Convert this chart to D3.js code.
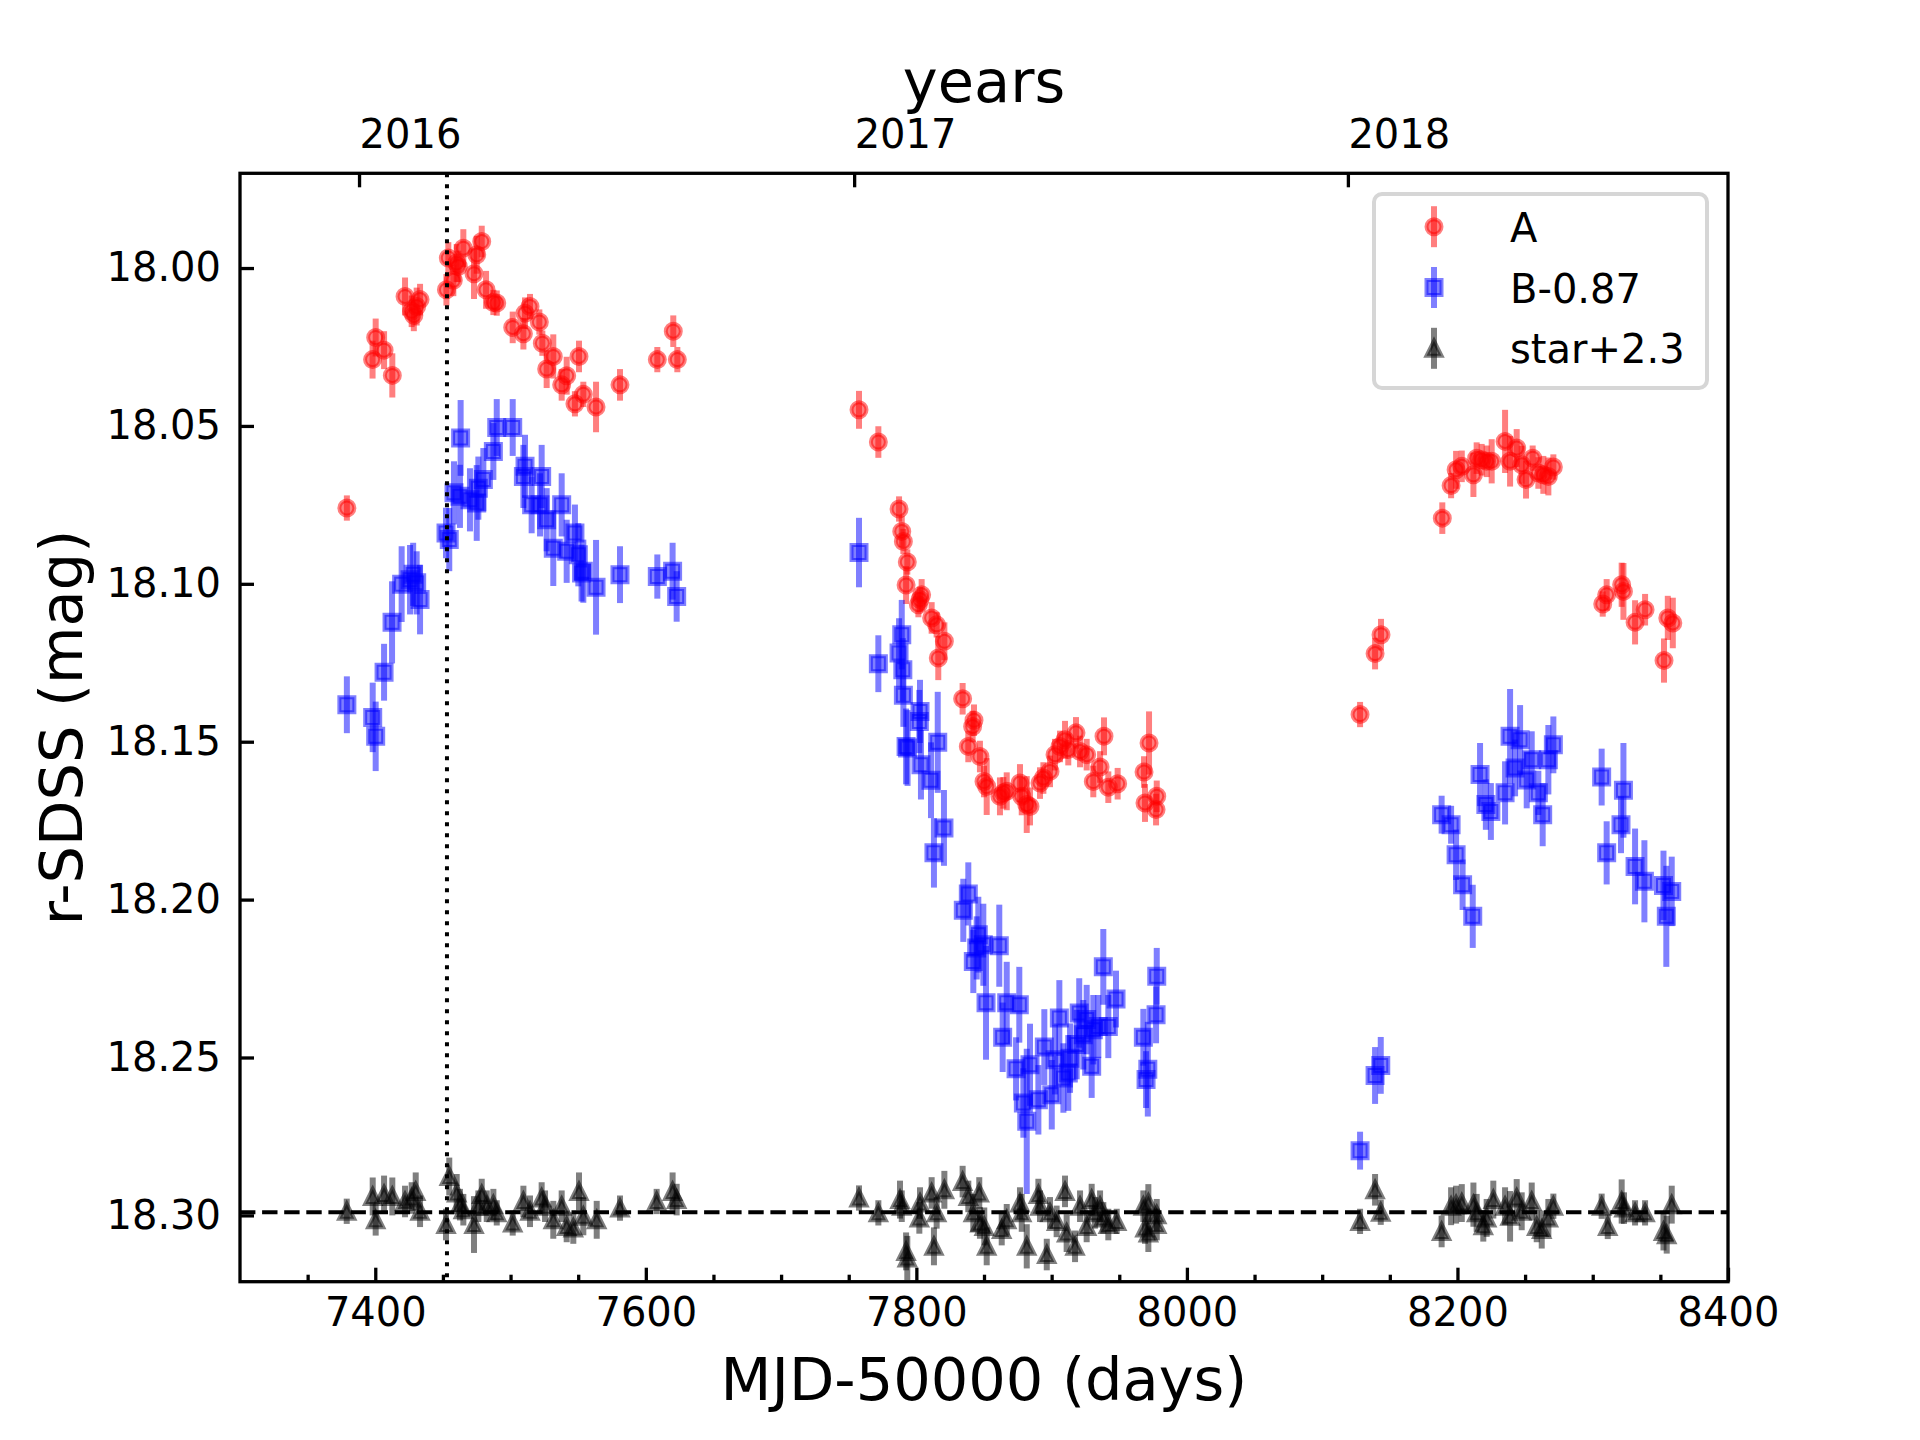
<!DOCTYPE html>
<html>
<head>
<meta charset="utf-8">
<script src="https://cdn.jsdelivr.net/npm/d3@7"></script>
<style>
  body { margin: 0; background: #fff; }
  svg text { font-family: "DejaVu Sans", sans-serif; fill: #000; }
</style>
</head>
<body>
<svg id="chart" width="1920" height="1440"></svg>
<script>
// -------------------------------------------------------------------------
// Data (MJD-50000, plotted magnitude, error)

// image A
const aDays = [
  7379, 7398, 7400.3, 7406.5, 7412.6, 7422, 7426.9, 7428.5, 7430.6, 7433.1,
  7452.6, 7454, 7457.7, 7460.2, 7461.4, 7465.1, 7473, 7475, 7478.7, 7481.9,
  7487.3, 7489.8, 7501.6, 7509.5, 7510.7, 7514.4, 7521.3, 7523.5, 7526.7, 7531.6,
  7537.8, 7541.5, 7547.6, 7550.6, 7553.8, 7563.2, 7580.9, 7608.5, 7620.3, 7623.3,
  7757.6, 7771.9, 7787.2, 7789.2, 7790.4, 7793.3, 7792.4, 7801.5, 7802.7, 7803.9,
  7811.3, 7815, 7820.7, 7816.2, 7834.2, 7838.4, 7841.6, 7842.6, 7847, 7850,
  7852, 7861.8, 7864.3, 7866.8, 7876.6, 7877.9, 7881.6, 7884, 7891.4, 7893.9,
  7898.8, 7902.5, 7906.2, 7909.9, 7912.3, 7918, 7921, 7925.9, 7930.8, 7935.8,
  7938.7, 7941.9, 7948.8, 7968.3, 7969, 7972, 7977.2, 7977.7,
  8128, 8139.1, 8143.5, 8188.8, 8195.3, 8199, 8203.2, 8211.8, 8214.2, 8217.9,
  8221.6, 8225.3, 8235.2, 8238.9, 8243.8, 8247.5, 8250.7, 8255.6, 8259.8, 8263.5,
  8267.2, 8270.9, 8307.4, 8310.3, 8321.4, 8322.7, 8331.3, 8338.7, 8352.7, 8355.5,
  8359.2
];
const aMags = [
  18.076, 18.029, 18.022, 18.026, 18.034, 18.009, 18.0137, 18.015, 18.0122, 18.010,
  18.0069, 17.9968, 18.0039, 17.9984, 17.9995, 17.9937, 18.0018, 17.9958, 17.9916, 18.0069,
  18.0109, 18.0111, 18.0188, 18.0208, 18.0143, 18.0122, 18.0171, 18.0238, 18.032, 18.028,
  18.037, 18.0341, 18.043, 18.028, 18.040, 18.044, 18.037, 18.029, 18.020, 18.029,
  18.0449, 18.0551, 18.0763, 18.0834, 18.0866, 18.0931, 18.1004, 18.1066, 18.105, 18.1035,
  18.1108, 18.113, 18.1182, 18.1235, 18.1364, 18.1515, 18.1452, 18.1432, 18.1547, 18.1626,
  18.1642, 18.1673, 18.1662, 18.1657, 18.1631, 18.1673, 18.1699, 18.1705, 18.1631, 18.1615,
  18.1594, 18.1541, 18.1515, 18.1494, 18.1525, 18.1472, 18.1531, 18.1541, 18.1626, 18.158,
  18.1483, 18.1644, 18.1633, 18.1596, 18.1694, 18.1504, 18.1715, 18.1673,
  18.1414, 18.1221, 18.1161, 18.0792, 18.0689, 18.0639, 18.0628, 18.0655, 18.0602, 18.0607,
  18.0612, 18.0612, 18.0549, 18.0612, 18.057, 18.0623, 18.067, 18.0602, 18.0649, 18.0655,
  18.066, 18.063, 18.1064, 18.1035, 18.1003, 18.1024, 18.1122, 18.1082, 18.1243, 18.1108,
  18.1124
];
const aErrs = [
  0.004, 0.006, 0.006, 0.006, 0.007, 0.006, 0.005, 0.005, 0.006, 0.005,
  0.005, 0.005, 0.005, 0.006, 0.005, 0.006, 0.008, 0.006, 0.005, 0.006,
  0.004, 0.004, 0.005, 0.005, 0.005, 0.004, 0.004, 0.004, 0.006, 0.007,
  0.005, 0.006, 0.004, 0.005, 0.004, 0.008, 0.005, 0.004, 0.005, 0.004,
  0.006, 0.005, 0.004, 0.005, 0.004, 0.004, 0.006, 0.004, 0.004, 0.005,
  0.005, 0.004, 0.006, 0.007, 0.005, 0.005, 0.005, 0.005, 0.005, 0.005,
  0.009, 0.006, 0.005, 0.006, 0.006, 0.006, 0.009, 0.006, 0.005, 0.005,
  0.005, 0.005, 0.005, 0.006, 0.005, 0.005, 0.005, 0.005, 0.005, 0.005,
  0.006, 0.005, 0.005, 0.005, 0.006, 0.010, 0.005, 0.005,
  0.004, 0.005, 0.005, 0.005, 0.004, 0.006, 0.005, 0.007, 0.005, 0.005,
  0.005, 0.007, 0.010, 0.008, 0.006, 0.006, 0.006, 0.004, 0.005, 0.006,
  0.006, 0.004, 0.004, 0.005, 0.007, 0.009, 0.007, 0.005, 0.007, 0.007,
  0.008
];

// image B, shifted by -0.87
const bDays = [
  7379, 7398.1, 7400.3, 7406.5, 7412.4, 7419.5, 7425.7, 7428, 7430.6, 7433.1,
  7452.3, 7454.7, 7458.2, 7462.6, 7463.1, 7470, 7475, 7476.2, 7479.9, 7487.3,
  7489.8, 7501.6, 7509.5, 7510.7, 7515.6, 7521.8, 7523, 7526.7, 7531.6, 7537.8,
  7541.5, 7547.6, 7550.1, 7552.5, 7553.8, 7563.2, 7580.9, 7608.5, 7619.8, 7622.8,
  7757.6, 7771.9, 7787.2, 7789.2, 7790, 7790.4, 7792.4, 7793.5, 7802.2, 7802.7,
  7803.4, 7810.8, 7813, 7815.8, 7820.4, 7834.7, 7838.4, 7842.1, 7844.6, 7845.8,
  7849.5, 7851.5, 7861.3, 7863.8, 7866.8, 7873.7, 7876.1, 7879.1, 7881.6, 7884,
  7890.2, 7894.6, 7900.1, 7902.5, 7905.7, 7908.7, 7912.3, 7913.6, 7918.5, 7920.4,
  7923.4, 7925.9, 7929.6, 7930.8, 7934.5, 7938.2, 7941.9, 7947.6, 7967.8, 7969.8,
  7971.1, 7977.2, 7977.7,
  8128, 8139.1, 8143.3, 8188.3, 8195.3, 8199, 8203.8, 8211.3, 8216.7, 8221,
  8224.7, 8235.2, 8238.9, 8242.6, 8246.3, 8251.2, 8254.9, 8259.8, 8263, 8267.2,
  8270.9, 8306.6, 8310.3, 8320.9, 8322.7, 8331.3, 8338.2, 8352.3, 8354.4, 8358.4
];
const bMags = [
  18.1383, 18.1423, 18.1483, 18.128, 18.1122, 18.1001, 18.0987, 18.097, 18.0997, 18.105,
  18.0839, 18.086, 18.0712, 18.0723, 18.0538, 18.0734, 18.0744, 18.0697, 18.067, 18.0581,
  18.0505, 18.0505, 18.066, 18.0628, 18.075, 18.075, 18.066, 18.0797, 18.0887, 18.075,
  18.0897, 18.0839, 18.0908, 18.0966, 18.096, 18.1011, 18.0971, 18.0977, 18.096, 18.104,
  18.0901, 18.1253, 18.1219, 18.1161, 18.1272, 18.1353, 18.1515, 18.152, 18.1436, 18.1404,
  18.1573, 18.1622, 18.1852, 18.1502, 18.1773, 18.2034, 18.1982, 18.2196, 18.2153, 18.2111,
  18.2143, 18.2327, 18.2146, 18.2436, 18.2327, 18.2536, 18.2333, 18.2644, 18.2702, 18.2523,
  18.2634, 18.2467, 18.2618, 18.2507, 18.2375, 18.2565, 18.2549, 18.2502, 18.2459, 18.2359,
  18.2428, 18.238, 18.2528, 18.2412, 18.2402, 18.2213, 18.2402, 18.2315, 18.2436, 18.257,
  18.2537, 18.2365, 18.2243,
  18.2795, 18.2557, 18.2525, 18.1731, 18.1763, 18.1858, 18.1953, 18.2053, 18.1604, 18.1699,
  18.1721, 18.1662, 18.1483, 18.1583, 18.1494, 18.1621, 18.1557, 18.1662, 18.1731, 18.1557,
  18.151, 18.1612, 18.1852, 18.1763, 18.1654, 18.1895, 18.1942, 18.1955, 18.2053, 18.1974
];
const bErrs = [
  0.009, 0.011, 0.011, 0.009, 0.013, 0.012, 0.011, 0.010, 0.010, 0.011,
  0.008, 0.010, 0.010, 0.010, 0.012, 0.010, 0.012, 0.010, 0.010, 0.009,
  0.009, 0.009, 0.010, 0.010, 0.009, 0.010, 0.010, 0.010, 0.012, 0.010,
  0.010, 0.009, 0.010, 0.009, 0.010, 0.015, 0.009, 0.007, 0.009, 0.008,
  0.011, 0.009, 0.011, 0.011, 0.010, 0.010, 0.012, 0.012, 0.010, 0.010,
  0.011, 0.012, 0.011, 0.016, 0.012, 0.010, 0.010, 0.010, 0.010, 0.012,
  0.013, 0.018, 0.013, 0.011, 0.013, 0.010, 0.012, 0.011, 0.023, 0.013,
  0.011, 0.012, 0.011, 0.011, 0.012, 0.011, 0.012, 0.011, 0.011, 0.011,
  0.011, 0.011, 0.010, 0.011, 0.010, 0.012, 0.010, 0.009, 0.009, 0.009,
  0.015, 0.009, 0.009,
  0.006, 0.009, 0.009, 0.006, 0.006, 0.008, 0.008, 0.010, 0.010, 0.008,
  0.009, 0.010, 0.015, 0.009, 0.011, 0.009, 0.009, 0.007, 0.010, 0.011,
  0.009, 0.009, 0.010, 0.009, 0.015, 0.012, 0.013, 0.011, 0.016, 0.011
];

// comparison star, shifted by +2.3
const sDays = [
  7378.9, 7398.1, 7400.3, 7406.5, 7412.6, 7422, 7426.9, 7429.9, 7433.1, 7454.7,
  7452.3, 7460.2, 7462.6, 7465.1, 7473, 7478.7, 7476.2, 7482.4, 7487.3, 7489.8,
  7501.6, 7509.5, 7514.4, 7523, 7525.5, 7531.6, 7537.8, 7541.5, 7546.4, 7550.6,
  7553.8, 7563.7, 7580.9, 7608, 7619.8, 7622.8,
  7757.6, 7771.9, 7787.9, 7789.2, 7792.4, 7793.3, 7802.7, 7802.2, 7811.3, 7815,
  7813, 7820.7, 7834.2, 7838.4, 7846.5, 7842.1, 7847, 7852, 7850.2, 7863.1,
  7866.8, 7876.6, 7877.9, 7881.6, 7890.2, 7891.4, 7896.4, 7898.8, 7903.7, 7909.9,
  7911.1, 7917.3, 7921, 7925.9, 7929.6, 7932, 7935.8, 7938.2, 7941.9, 7948.1,
  7967.8, 7971.5, 7969, 7971.5, 7977.7, 7977.7,
  8128, 8139.1, 8143.3, 8188.3, 8195.3, 8199, 8203.2, 8211.8, 8214.2, 8219.1,
  8221.6, 8226.5, 8235.2, 8238.9, 8243.8, 8247.5, 8254.9, 8258.6, 8262.3, 8267.2,
  8270.9, 8306.6, 8311.1, 8321.4, 8323.1, 8331.3, 8338.7, 8352.3, 8354.7, 8358.4
];
const sMags = [
  18.2987, 18.294, 18.3014, 18.2934, 18.294, 18.2956, 18.2945, 18.2924, 18.2987, 18.2877,
  18.3029, 18.2929, 18.2966, 18.2982, 18.3029, 18.2934, 18.2971, 18.2971, 18.2966, 18.2992,
  18.3024, 18.2956, 18.2987, 18.2945, 18.2971, 18.3014, 18.2971, 18.3035, 18.304, 18.2924,
  18.3003, 18.3014, 18.2977, 18.2956, 18.2924, 18.295,
  18.2945, 18.2992, 18.295, 18.2971, 18.3114, 18.3135, 18.2961, 18.3008, 18.2929, 18.2992,
  18.3098, 18.2919, 18.2893, 18.294, 18.2929, 18.2992, 18.3024, 18.3098, 18.3035, 18.3045,
  18.3014, 18.2961, 18.2992, 18.3098, 18.2934, 18.2971, 18.3124, 18.2992, 18.3019, 18.2924,
  18.3056, 18.3098, 18.2971, 18.3035, 18.295, 18.2992, 18.2971, 18.3008, 18.3029, 18.3019,
  18.2971, 18.2961, 18.304, 18.3056, 18.2998, 18.3029,
  18.3019, 18.2919, 18.299, 18.3051, 18.2971, 18.2966, 18.2961, 18.2966, 18.2992, 18.3033,
  18.3008, 18.295, 18.2971, 18.3003, 18.2945, 18.2987, 18.2956, 18.3035, 18.3045, 18.3008,
  18.2971, 18.2971, 18.3035, 18.2956, 18.2977, 18.2992, 18.2992, 18.3051, 18.3061, 18.2966
];
const sErrs = [
  0.004, 0.006, 0.005, 0.006, 0.006, 0.005, 0.005, 0.006, 0.005, 0.006,
  0.005, 0.006, 0.005, 0.005, 0.009, 0.005, 0.005, 0.005, 0.005, 0.004,
  0.004, 0.005, 0.005, 0.005, 0.005, 0.006, 0.005, 0.005, 0.005, 0.006,
  0.006, 0.006, 0.004, 0.004, 0.006, 0.005,
  0.004, 0.004, 0.006, 0.005, 0.006, 0.007, 0.005, 0.005, 0.005, 0.005,
  0.006, 0.006, 0.005, 0.005, 0.005, 0.006, 0.005, 0.006, 0.006, 0.005,
  0.005, 0.005, 0.006, 0.007, 0.005, 0.005, 0.005, 0.005, 0.005, 0.005,
  0.006, 0.005, 0.005, 0.005, 0.005, 0.005, 0.005, 0.005, 0.005, 0.004,
  0.005, 0.006, 0.005, 0.006, 0.005, 0.005,
  0.004, 0.005, 0.004, 0.005, 0.006, 0.006, 0.006, 0.007, 0.006, 0.005,
  0.006, 0.006, 0.006, 0.008, 0.006, 0.006, 0.006, 0.005, 0.006, 0.006,
  0.004, 0.004, 0.004, 0.007, 0.005, 0.004, 0.004, 0.006, 0.006, 0.006
];

const xMajorTicks = [7400, 7600, 7800, 8000, 8200, 8400];
const xMinorTicks = [7350, 7450, 7500, 7550, 7650, 7700, 7750, 7850, 7900, 7950,
  8050, 8100, 8150, 8250, 8300, 8350];
const yTicks = [18.00, 18.05, 18.10, 18.15, 18.20, 18.25, 18.30];
const yearTicks = [2016, 2017, 2018];
const starLevel = 18.299;
const eventDay = 7453;

const seriesNames = ['A', 'B-0.87', 'star+2.3'];

// -------------------------------------------------------------------------
// Layout

const margin = { left: 240, right: 1728, top: 173.3, bottom: 1281.7 };
const svg = d3.select('#chart');

const x = d3.scaleLinear().domain([7300, 8400]).range([margin.left, margin.right]);
const y = d3.scaleLinear().domain([17.97, 18.321]).range([margin.top, margin.bottom]);

// MJD-50000 of 1 January of a year
function yearToDay(year) {
  return Date.UTC(year, 0, 1) / 86400000 + 40587 - 50000;
}

const msHalf = 7.5;
const shapes = {
  circle: d3.symbol(d3.symbolCircle, Math.PI * msHalf * msHalf)(),
  square: `M${-msHalf},${-msHalf}h${2 * msHalf}v${2 * msHalf}h${-2 * msHalf}Z`,
  triangle: `M0,${-msHalf}L${-msHalf},${msHalf}L${msHalf},${msHalf}Z`
};

// -------------------------------------------------------------------------
// Series

const plot = svg.append('g').attr('class', 'plot');

function drawSeries(days, mags, errs, color, shape) {
  let rows = days.map((d, i) => ({ day: d, mag: mags[i], err: errs[i] }));
  let g = plot.append('g');
  g.selectAll('line')
    .data(rows)
    .enter()
    .append('line')
    .attr('x1', (d) => x(d.day))
    .attr('x2', (d) => x(d.day))
    .attr('y1', (d) => y(d.mag - d.err))
    .attr('y2', (d) => y(d.mag + d.err))
    .attr('stroke', color)
    .attr('stroke-opacity', 0.5)
    .attr('stroke-width', 6);
  g.selectAll('path')
    .data(rows)
    .enter()
    .append('path')
    .attr('d', shapes[shape])
    .attr('transform', (d) => `translate(${x(d.day)},${y(d.mag)})`)
    .attr('fill', color)
    .attr('fill-opacity', 0.5)
    .attr('stroke', color)
    .attr('stroke-opacity', 0.5)
    .attr('stroke-width', 4);
}

drawSeries(aDays, aMags, aErrs, '#ff0000', 'circle');
drawSeries(bDays, bMags, bErrs, '#0000ff', 'square');
drawSeries(sDays, sMags, sErrs, '#000000', 'triangle');

// reference lines
svg.append('line')
  .attr('x1', x(7300)).attr('x2', x(8400))
  .attr('y1', y(starLevel)).attr('y2', y(starLevel))
  .attr('stroke', '#000').attr('stroke-width', 4.2)
  .attr('stroke-dasharray', '15.4,6.7');

svg.append('line')
  .attr('x1', x(eventDay)).attr('x2', x(eventDay))
  .attr('y1', margin.top).attr('y2', margin.bottom)
  .attr('stroke', '#000').attr('stroke-width', 4)
  .attr('stroke-dasharray', '4,7');

// -------------------------------------------------------------------------
// Axes

svg.append('g')
  .attr('transform', `translate(0,${margin.bottom})`)
  .call(d3.axisBottom(x).tickValues(xMajorTicks).tickFormat(d3.format('d'))
    .tickSizeInner(-14).tickSizeOuter(0).tickPadding(16));

svg.append('g')
  .attr('transform', `translate(0,${margin.bottom})`)
  .call(d3.axisBottom(x).tickValues(xMinorTicks).tickFormat('')
    .tickSizeInner(-7).tickSizeOuter(0));

svg.append('g')
  .attr('transform', `translate(${margin.left},0)`)
  .call(d3.axisLeft(y).tickValues(yTicks).tickFormat(d3.format('.2f'))
    .tickSizeInner(-14).tickSizeOuter(0).tickPadding(19));

const topAxis = svg.append('g')
  .attr('transform', `translate(0,${margin.top})`)
  .call(d3.axisTop(x).tickValues(yearTicks.map(yearToDay)).tickFormat('')
    .tickSizeInner(-14).tickSizeOuter(0));

svg.selectAll('.domain').remove();
svg.selectAll('.tick line').attr('stroke', '#000').attr('stroke-width', 3.3);
svg.selectAll('.tick text').style('font-size', '40px').attr('fill', '#000');

topAxis.selectAll('.tick')
  .append('text')
  .attr('x', 0)
  .attr('y', 148 - margin.top)
  .attr('text-anchor', 'start')
  .style('font-size', '40px')
  .attr('fill', '#000')
  .text((d, i) => yearTicks[i]);

// frame
svg.append('rect')
  .attr('x', margin.left).attr('y', margin.top)
  .attr('width', margin.right - margin.left)
  .attr('height', margin.bottom - margin.top)
  .attr('fill', 'none').attr('stroke', '#000').attr('stroke-width', 3.3);

// axis titles
svg.append('text')
  .attr('x', (margin.left + margin.right) / 2).attr('y', 1400)
  .attr('text-anchor', 'middle').style('font-size', '59px')
  .text('MJD-50000 (days)');

svg.append('text')
  .attr('x', (margin.left + margin.right) / 2).attr('y', 102)
  .attr('text-anchor', 'middle').style('font-size', '59px')
  .text('years');

svg.append('text')
  .attr('transform', `translate(82,${(margin.top + margin.bottom) / 2}) rotate(-90)`)
  .attr('text-anchor', 'middle').style('font-size', '59px')
  .text('r-SDSS (mag)');

// -------------------------------------------------------------------------
// Legend

const legend = svg.append('g').attr('class', 'legend');
legend.append('rect')
  .attr('x', 1374).attr('y', 194).attr('width', 333).attr('height', 194)
  .attr('rx', 8).attr('ry', 8)
  .attr('fill', '#fff').attr('fill-opacity', 0.8)
  .attr('stroke', '#d6d6d6').attr('stroke-width', 4);

const legendItems = [
  { name: seriesNames[0], color: '#ff0000', shape: 'circle' },
  { name: seriesNames[1], color: '#0000ff', shape: 'square' },
  { name: seriesNames[2], color: '#000000', shape: 'triangle' }
];

legendItems.forEach((item, i) => {
  let cy = 226.7 + i * 60.8;
  legend.append('line')
    .attr('x1', 1434).attr('x2', 1434)
    .attr('y1', cy - 20.5).attr('y2', cy + 20.5)
    .attr('stroke', item.color).attr('stroke-opacity', 0.5).attr('stroke-width', 6);
  legend.append('path')
    .attr('d', shapes[item.shape])
    .attr('transform', `translate(1434,${cy})`)
    .attr('fill', item.color).attr('fill-opacity', 0.5)
    .attr('stroke', item.color).attr('stroke-opacity', 0.5).attr('stroke-width', 4);
  legend.append('text')
    .attr('x', 1510).attr('y', cy + 15)
    .style('font-size', '40px')
    .text(item.name);
});
</script>
</body>
</html>
